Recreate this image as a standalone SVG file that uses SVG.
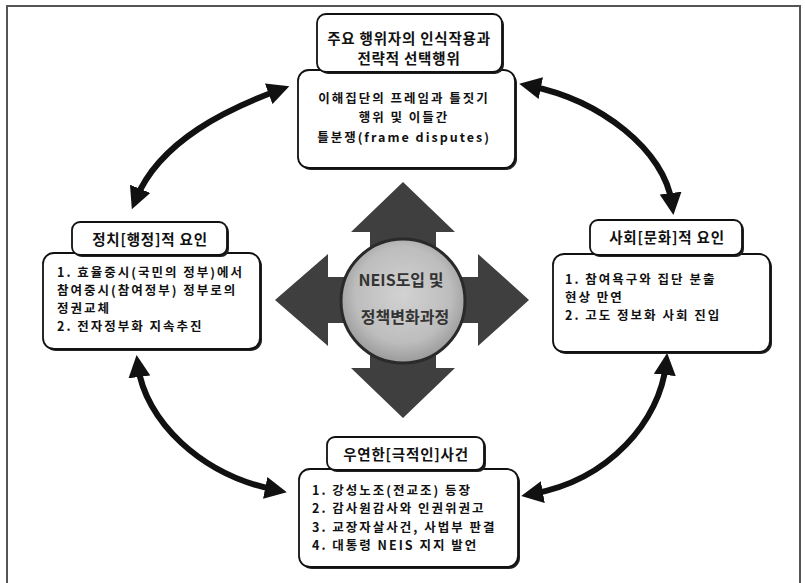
<svg xmlns="http://www.w3.org/2000/svg" width="805" height="583" viewBox="0 0 805 583">
<style>
  .frame{fill:none;stroke:#555;stroke-width:2}
  .box{fill:#fff;stroke:#111;stroke-width:1.8}
  .shadow{fill:#222}
  .t{font-family:"Noto Sans CJK KR","Noto Sans",sans-serif;font-weight:bold;fill:#111}
  .hd{font-size:14.5px;text-anchor:middle;letter-spacing:0.8px}
  .bd{font-size:12.5px;letter-spacing:2px}
  .ctr{font-size:16px;text-anchor:middle;fill:#333}
  .conn{fill:none;stroke:#111;stroke-width:6;marker-start:url(#ah);marker-end:url(#ah)}
</style>
<defs>
  <marker id="ah" viewBox="0 0 20 20" refX="10" refY="10" markerWidth="22" markerHeight="22" markerUnits="userSpaceOnUse" orient="auto-start-reverse">
    <path d="M0,0 L20,10 L0,20 Z" fill="#111"/>
  </marker>
  <radialGradient id="cg" cx="50%" cy="45%" r="55%">
    <stop offset="0" stop-color="#d2d2d2"/>
    <stop offset="0.7" stop-color="#bdbdbd"/>
    <stop offset="1" stop-color="#9a9a9a"/>
  </radialGradient>
</defs>
<rect x="7" y="6" width="793" height="600" class="frame"/>

<g id="center">
  <path d="M403,182 L455,232 L436,232 L436,277 L478,277 L478,254 L529,300 L478,346 L478,323 L436,323 L436,368 L455,368 L403,418 L351,368 L370,368 L370,323 L328,323 L328,346 L275,300 L328,254 L328,277 L370,277 L370,232 L351,232 Z" fill="#3f3f3f"/>
  <circle cx="403" cy="301" r="62" fill="url(#cg)" stroke="#2a2a2a" stroke-width="3"/>
  <text class="t ctr" x="401" y="286">NEIS도입 및</text>
  <text class="t ctr" x="405" y="323">정책변화과정</text>
</g>

<g id="connectors">
  <path class="conn" d="M279,90 C230,108 160,140 136,199"/>
  <path class="conn" d="M530,86 C600,100 665,150 672,204"/>
  <path class="conn" d="M138,366 C145,420 200,475 276,490"/>
  <path class="conn" d="M666,364 C660,420 610,480 532,494"/>
</g>

<g id="node-top">
  <rect x="300" y="72" width="217" height="98" rx="11" class="shadow"/>
  <rect x="298" y="70" width="217" height="98" rx="11" class="box"/>
  <rect x="319" y="16" width="185" height="58" rx="9" class="shadow"/>
  <rect x="317" y="14" width="185" height="58" rx="9" class="box"/>
  <text class="t hd" x="409" y="44">주요 행위자의 인식작용과</text>
  <text class="t hd" x="409" y="64">전략적 선택행위</text>
  <text class="t bd" x="404" y="103" text-anchor="middle">이해집단의 프레임과 틀짓기</text>
  <text class="t bd" x="404" y="122" text-anchor="middle">행위 및 이들간</text>
  <text class="t bd" x="404" y="142" text-anchor="middle">틀분쟁(frame disputes)</text>
</g>

<g id="node-left">
  <rect x="45" y="255" width="217" height="96" rx="11" class="shadow"/>
  <rect x="43" y="253" width="217" height="96" rx="11" class="box"/>
  <rect x="74" y="224" width="155" height="33" rx="8" class="shadow"/>
  <rect x="72" y="222" width="155" height="33" rx="8" class="box"/>
  <text class="t hd" x="150" y="245">정치[행정]적 요인</text>
  <text class="t bd" x="57" y="277">1. 효율중시(국민의 정부)에서</text>
  <text class="t bd" x="57" y="295">참여중시(참여정부) 정부로의</text>
  <text class="t bd" x="57" y="313">정권교체</text>
  <text class="t bd" x="57" y="331">2. 전자정부화 지속추진</text>
</g>

<g id="node-right">
  <rect x="555" y="256" width="217" height="98" rx="11" class="shadow"/>
  <rect x="553" y="254" width="217" height="98" rx="11" class="box"/>
  <rect x="592" y="222" width="152" height="35" rx="8" class="shadow"/>
  <rect x="590" y="220" width="152" height="35" rx="8" class="box"/>
  <text class="t hd" x="667" y="243">사회[문화]적 요인</text>
  <text class="t bd" x="565" y="284">1. 참여욕구와 집단 분출</text>
  <text class="t bd" x="565" y="302">현상 만연</text>
  <text class="t bd" x="565" y="320">2. 고도 정보화 사회 진입</text>
</g>

<g id="node-bottom">
  <rect x="301" y="471" width="219" height="98" rx="11" class="shadow"/>
  <rect x="299" y="469" width="219" height="98" rx="11" class="box"/>
  <rect x="329" y="439" width="157" height="33" rx="8" class="shadow"/>
  <rect x="327" y="437" width="157" height="33" rx="8" class="box"/>
  <text class="t hd" x="406" y="460">우연한[극적인]사건</text>
  <text class="t bd" x="312" y="495">1. 강성노조(전교조) 등장</text>
  <text class="t bd" x="312" y="513">2. 감사원감사와 인권위권고</text>
  <text class="t bd" x="312" y="532">3. 교장자살사건, 사법부 판결</text>
  <text class="t bd" x="312" y="550">4. 대통령 NEIS 지지 발언</text>
</g>
</svg>
